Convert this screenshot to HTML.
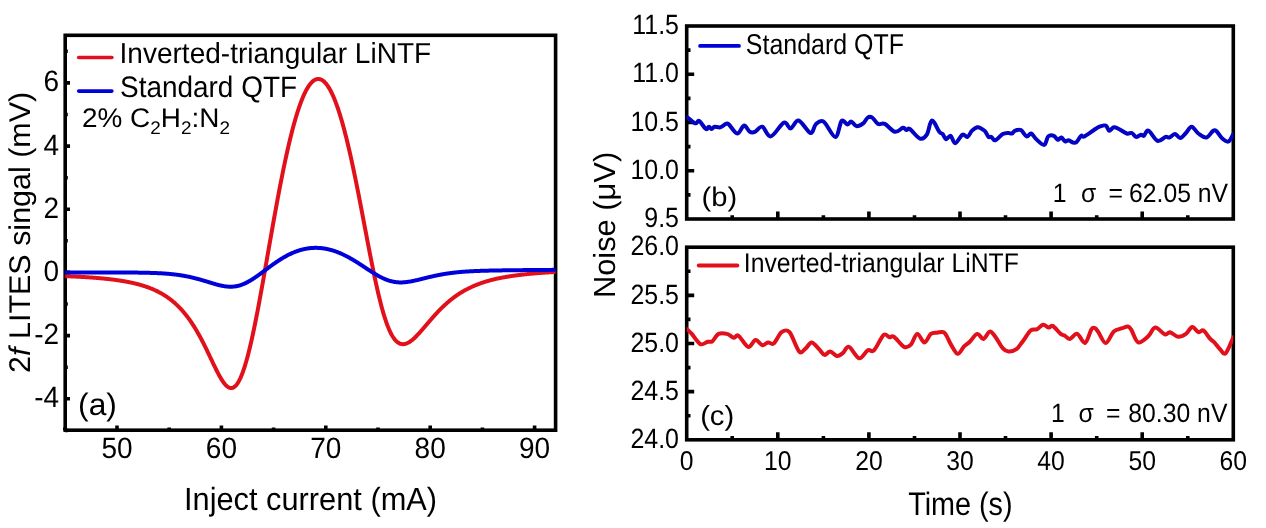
<!DOCTYPE html>
<html><head><meta charset="utf-8"><style>html,body{margin:0;padding:0;background:#fff;overflow:hidden}svg{display:block;will-change:transform}text{font-family:"Liberation Sans",sans-serif;fill:#000;text-rendering:geometricPrecision}</style></head><body>
<svg width="1266" height="528" viewBox="0 0 1266 528">
<rect width="1266" height="528" fill="#fff"/>
<defs><clipPath id="cl"><rect x="65.2" y="35.3" width="490.4" height="394.9"/></clipPath>
<clipPath id="cb"><rect x="686.7" y="26" width="546.6" height="193"/></clipPath>
<clipPath id="cc"><rect x="686.7" y="247.2" width="546.6" height="192.6"/></clipPath></defs>
<rect x="65.2" y="35.3" width="490.4" height="394.9" fill="none" stroke="#000" stroke-width="3.6"/>
<path d="M117.0,430.2V425.4 M221.4,430.2V425.4 M325.8,430.2V425.4 M430.2,430.2V425.4 M534.6,430.2V425.4 M64.8,430.2V427.6 M169.2,430.2V427.6 M273.6,430.2V427.6 M378.0,430.2V427.6 M482.4,430.2V427.6 M65.2,398.8H70.0 M65.2,335.6H70.0 M65.2,272.4H70.0 M65.2,209.3H70.0 M65.2,146.1H70.0 M65.2,82.9H70.0 M65.2,430.4H67.8 M65.2,367.2H67.8 M65.2,304.0H67.8 M65.2,240.8H67.8 M65.2,177.7H67.8 M65.2,114.5H67.8 M65.2,51.3H67.8" stroke="#000" stroke-width="3.6" fill="none"/>
<g clip-path="url(#cl)" fill="none" stroke-linejoin="round" stroke-linecap="round">
<path d="M63.0,276.08 L63.5,276.10 L64.0,276.11 L64.5,276.13 L65.0,276.15 L65.5,276.17 L66.0,276.19 L66.5,276.21 L67.0,276.23 L67.5,276.25 L68.0,276.27 L68.5,276.29 L69.0,276.31 L69.5,276.33 L70.0,276.35 L70.5,276.37 L71.0,276.39 L71.5,276.41 L72.0,276.43 L72.5,276.46 L73.0,276.48 L73.5,276.50 L74.0,276.52 L74.5,276.55 L75.0,276.57 L75.5,276.60 L76.0,276.62 L76.5,276.64 L77.0,276.67 L77.5,276.69 L78.0,276.72 L78.5,276.75 L79.0,276.77 L79.5,276.80 L80.0,276.82 L80.5,276.85 L81.0,276.88 L81.5,276.91 L82.0,276.94 L82.5,276.96 L83.0,276.99 L83.5,277.02 L84.0,277.05 L84.5,277.08 L85.0,277.11 L85.5,277.14 L86.0,277.17 L86.5,277.20 L87.0,277.24 L87.5,277.27 L88.0,277.30 L88.5,277.33 L89.0,277.37 L89.5,277.40 L90.0,277.44 L90.5,277.47 L91.0,277.51 L91.5,277.54 L92.0,277.58 L92.5,277.61 L93.0,277.65 L93.5,277.69 L94.0,277.73 L94.5,277.77 L95.0,277.81 L95.5,277.84 L96.0,277.88 L96.5,277.93 L97.0,277.97 L97.5,278.01 L98.0,278.05 L98.5,278.09 L99.0,278.14 L99.5,278.18 L100.0,278.22 L100.5,278.27 L101.0,278.32 L101.5,278.36 L102.0,278.41 L102.5,278.46 L103.0,278.50 L103.5,278.55 L104.0,278.60 L104.5,278.65 L105.0,278.70 L105.5,278.75 L106.0,278.81 L106.5,278.86 L107.0,278.91 L107.5,278.97 L108.0,279.02 L108.5,279.08 L109.0,279.13 L109.5,279.19 L110.0,279.25 L110.5,279.31 L111.0,279.37 L111.5,279.43 L112.0,279.49 L112.5,279.55 L113.0,279.61 L113.5,279.68 L114.0,279.74 L114.5,279.81 L115.0,279.87 L115.5,279.94 L116.0,280.01 L116.5,280.08 L117.0,280.15 L117.5,280.22 L118.0,280.29 L118.5,280.36 L119.0,280.44 L119.5,280.51 L120.0,280.59 L120.5,280.67 L121.0,280.75 L121.5,280.83 L122.0,280.91 L122.5,280.99 L123.0,281.07 L123.5,281.16 L124.0,281.24 L124.5,281.33 L125.0,281.42 L125.5,281.51 L126.0,281.60 L126.5,281.69 L127.0,281.78 L127.5,281.88 L128.0,281.98 L128.5,282.07 L129.0,282.17 L129.5,282.27 L130.0,282.38 L130.5,282.48 L131.0,282.59 L131.5,282.69 L132.0,282.80 L132.5,282.91 L133.0,283.02 L133.5,283.14 L134.0,283.25 L134.5,283.37 L135.0,283.49 L135.5,283.61 L136.0,283.73 L136.5,283.86 L137.0,283.99 L137.5,284.12 L138.0,284.25 L138.5,284.38 L139.0,284.51 L139.5,284.65 L140.0,284.79 L140.5,284.93 L141.0,285.08 L141.5,285.22 L142.0,285.37 L142.5,285.52 L143.0,285.67 L143.5,285.83 L144.0,285.99 L144.5,286.15 L145.0,286.31 L145.5,286.48 L146.0,286.65 L146.5,286.82 L147.0,286.99 L147.5,287.17 L148.0,287.35 L148.5,287.53 L149.0,287.72 L149.5,287.91 L150.0,288.10 L150.5,288.30 L151.0,288.50 L151.5,288.70 L152.0,288.90 L152.5,289.11 L153.0,289.32 L153.5,289.54 L154.0,289.76 L154.5,289.98 L155.0,290.21 L155.5,290.44 L156.0,290.68 L156.5,290.91 L157.0,291.16 L157.5,291.40 L158.0,291.65 L158.5,291.91 L159.0,292.17 L159.5,292.43 L160.0,292.70 L160.5,292.97 L161.0,293.25 L161.5,293.53 L162.0,293.82 L162.5,294.11 L163.0,294.41 L163.5,294.71 L164.0,295.02 L164.5,295.33 L165.0,295.65 L165.5,295.97 L166.0,296.30 L166.5,296.63 L167.0,296.97 L167.5,297.31 L168.0,297.67 L168.5,298.02 L169.0,298.38 L169.5,298.75 L170.0,299.13 L170.5,299.51 L171.0,299.90 L171.5,300.29 L172.0,300.69 L172.5,301.10 L173.0,301.52 L173.5,301.94 L174.0,302.36 L174.5,302.80 L175.0,303.24 L175.5,303.69 L176.0,304.15 L176.5,304.62 L177.0,305.09 L177.5,305.57 L178.0,306.06 L178.5,306.55 L179.0,307.06 L179.5,307.57 L180.0,308.09 L180.5,308.62 L181.0,309.16 L181.5,309.70 L182.0,310.26 L182.5,310.82 L183.0,311.39 L183.5,311.98 L184.0,312.57 L184.5,313.17 L185.0,313.78 L185.5,314.40 L186.0,315.02 L186.5,315.66 L187.0,316.31 L187.5,316.97 L188.0,317.63 L188.5,318.31 L189.0,319.00 L189.5,319.70 L190.0,320.40 L190.5,321.12 L191.0,321.85 L191.5,322.59 L192.0,323.34 L192.5,324.10 L193.0,324.87 L193.5,325.65 L194.0,326.44 L194.5,327.24 L195.0,328.05 L195.5,328.87 L196.0,329.70 L196.5,330.55 L197.0,331.40 L197.5,332.27 L198.0,333.14 L198.5,334.02 L199.0,334.92 L199.5,335.82 L200.0,336.74 L200.5,337.66 L201.0,338.60 L201.5,339.54 L202.0,340.50 L202.5,341.46 L203.0,342.43 L203.5,343.41 L204.0,344.39 L204.5,345.39 L205.0,346.39 L205.5,347.40 L206.0,348.42 L206.5,349.44 L207.0,350.47 L207.5,351.51 L208.0,352.55 L208.5,353.59 L209.0,354.64 L209.5,355.69 L210.0,356.74 L210.5,357.79 L211.0,358.85 L211.5,359.90 L212.0,360.95 L212.5,362.01 L213.0,363.06 L213.5,364.10 L214.0,365.14 L214.5,366.18 L215.0,367.21 L215.5,368.23 L216.0,369.24 L216.5,370.24 L217.0,371.22 L217.5,372.20 L218.0,373.16 L218.5,374.10 L219.0,375.03 L219.5,375.94 L220.0,376.83 L220.5,377.69 L221.0,378.54 L221.5,379.35 L222.0,380.15 L222.5,380.91 L223.0,381.64 L223.5,382.34 L224.0,383.01 L224.5,383.64 L225.0,384.24 L225.5,384.80 L226.0,385.32 L226.5,385.79 L227.0,386.23 L227.5,386.62 L228.0,386.97 L228.5,387.27 L229.0,387.52 L229.5,387.72 L230.0,387.87 L230.5,387.97 L231.0,388.01 L231.5,388.00 L232.0,387.94 L232.5,387.82 L233.0,387.64 L233.5,387.40 L234.0,387.11 L234.5,386.76 L235.0,386.35 L235.5,385.88 L236.0,385.35 L236.5,384.75 L237.0,384.10 L237.5,383.39 L238.0,382.62 L238.5,381.78 L239.0,380.89 L239.5,379.93 L240.0,378.92 L240.5,377.85 L241.0,376.71 L241.5,375.52 L242.0,374.27 L242.5,372.96 L243.0,371.60 L243.5,370.18 L244.0,368.70 L244.5,367.17 L245.0,365.58 L245.5,363.94 L246.0,362.25 L246.5,360.50 L247.0,358.71 L247.5,356.86 L248.0,354.97 L248.5,353.03 L249.0,351.05 L249.5,349.01 L250.0,346.94 L250.5,344.82 L251.0,342.66 L251.5,340.45 L252.0,338.21 L252.5,335.93 L253.0,333.61 L253.5,331.26 L254.0,328.87 L254.5,326.45 L255.0,324.00 L255.5,321.51 L256.0,319.00 L256.5,316.45 L257.0,313.88 L257.5,311.28 L258.0,308.66 L258.5,306.02 L259.0,303.35 L259.5,300.66 L260.0,297.95 L260.5,295.22 L261.0,292.48 L261.5,289.72 L262.0,286.94 L262.5,284.16 L263.0,281.35 L263.5,278.54 L264.0,275.72 L264.5,272.89 L265.0,270.05 L265.5,267.20 L266.0,264.35 L266.5,261.50 L267.0,258.64 L267.5,255.78 L268.0,252.92 L268.5,250.05 L269.0,247.19 L269.5,244.34 L270.0,241.48 L270.5,238.63 L271.0,235.78 L271.5,232.94 L272.0,230.11 L272.5,227.29 L273.0,224.47 L273.5,221.67 L274.0,218.87 L274.5,216.09 L275.0,213.32 L275.5,210.56 L276.0,207.82 L276.5,205.09 L277.0,202.38 L277.5,199.68 L278.0,197.00 L278.5,194.34 L279.0,191.70 L279.5,189.08 L280.0,186.47 L280.5,183.89 L281.0,181.33 L281.5,178.79 L282.0,176.28 L282.5,173.78 L283.0,171.31 L283.5,168.87 L284.0,166.45 L284.5,164.05 L285.0,161.68 L285.5,159.34 L286.0,157.02 L286.5,154.74 L287.0,152.48 L287.5,150.24 L288.0,148.04 L288.5,145.87 L289.0,143.72 L289.5,141.61 L290.0,139.52 L290.5,137.47 L291.0,135.45 L291.5,133.46 L292.0,131.50 L292.5,129.57 L293.0,127.68 L293.5,125.81 L294.0,123.99 L294.5,122.19 L295.0,120.43 L295.5,118.70 L296.0,117.01 L296.5,115.35 L297.0,113.72 L297.5,112.14 L298.0,110.58 L298.5,109.06 L299.0,107.58 L299.5,106.13 L300.0,104.72 L300.5,103.35 L301.0,102.01 L301.5,100.70 L302.0,99.44 L302.5,98.21 L303.0,97.02 L303.5,95.86 L304.0,94.75 L304.5,93.67 L305.0,92.62 L305.5,91.62 L306.0,90.65 L306.5,89.72 L307.0,88.83 L307.5,87.98 L308.0,87.17 L308.5,86.39 L309.0,85.65 L309.5,84.95 L310.0,84.29 L310.5,83.67 L311.0,83.08 L311.5,82.54 L312.0,82.03 L312.5,81.56 L313.0,81.13 L313.5,80.74 L314.0,80.39 L314.5,80.08 L315.0,79.81 L315.5,79.57 L316.0,79.38 L316.5,79.22 L317.0,79.10 L317.5,79.02 L318.0,78.98 L318.5,78.98 L319.0,79.02 L319.5,79.10 L320.0,79.22 L320.5,79.37 L321.0,79.56 L321.5,79.80 L322.0,80.07 L322.5,80.38 L323.0,80.73 L323.5,81.11 L324.0,81.54 L324.5,82.01 L325.0,82.51 L325.5,83.05 L326.0,83.63 L326.5,84.25 L327.0,84.90 L327.5,85.60 L328.0,86.33 L328.5,87.10 L329.0,87.91 L329.5,88.75 L330.0,89.63 L330.5,90.55 L331.0,91.51 L331.5,92.51 L332.0,93.54 L332.5,94.61 L333.0,95.71 L333.5,96.85 L334.0,98.03 L334.5,99.24 L335.0,100.49 L335.5,101.78 L336.0,103.10 L336.5,104.46 L337.0,105.85 L337.5,107.28 L338.0,108.74 L338.5,110.23 L339.0,111.76 L339.5,113.33 L340.0,114.92 L340.5,116.56 L341.0,118.22 L341.5,119.92 L342.0,121.65 L342.5,123.41 L343.0,125.20 L343.5,127.03 L344.0,128.88 L344.5,130.77 L345.0,132.69 L345.5,134.64 L346.0,136.61 L346.5,138.62 L347.0,140.65 L347.5,142.72 L348.0,144.81 L348.5,146.93 L349.0,149.08 L349.5,151.25 L350.0,153.45 L350.5,155.67 L351.0,157.92 L351.5,160.19 L352.0,162.49 L352.5,164.81 L353.0,167.15 L353.5,169.51 L354.0,171.90 L354.5,174.30 L355.0,176.72 L355.5,179.17 L356.0,181.63 L356.5,184.11 L357.0,186.60 L357.5,189.11 L358.0,191.64 L358.5,194.18 L359.0,196.73 L359.5,199.30 L360.0,201.87 L360.5,204.46 L361.0,207.06 L361.5,209.66 L362.0,212.27 L362.5,214.89 L363.0,217.51 L363.5,220.14 L364.0,222.77 L364.5,225.40 L365.0,228.03 L365.5,230.66 L366.0,233.29 L366.5,235.92 L367.0,238.54 L367.5,241.15 L368.0,243.76 L368.5,246.36 L369.0,248.95 L369.5,251.53 L370.0,254.09 L370.5,256.64 L371.0,259.18 L371.5,261.70 L372.0,264.20 L372.5,266.68 L373.0,269.14 L373.5,271.58 L374.0,274.00 L374.5,276.39 L375.0,278.75 L375.5,281.08 L376.0,283.39 L376.5,285.66 L377.0,287.90 L377.5,290.11 L378.0,292.28 L378.5,294.42 L379.0,296.52 L379.5,298.58 L380.0,300.60 L380.5,302.59 L381.0,304.52 L381.5,306.42 L382.0,308.28 L382.5,310.08 L383.0,311.85 L383.5,313.57 L384.0,315.24 L384.5,316.86 L385.0,318.44 L385.5,319.97 L386.0,321.45 L386.5,322.88 L387.0,324.26 L387.5,325.59 L388.0,326.87 L388.5,328.11 L389.0,329.29 L389.5,330.42 L390.0,331.51 L390.5,332.55 L391.0,333.53 L391.5,334.47 L392.0,335.36 L392.5,336.21 L393.0,337.00 L393.5,337.75 L394.0,338.46 L394.5,339.12 L395.0,339.73 L395.5,340.30 L396.0,340.83 L396.5,341.32 L397.0,341.76 L397.5,342.16 L398.0,342.53 L398.5,342.85 L399.0,343.14 L399.5,343.39 L400.0,343.60 L400.5,343.78 L401.0,343.92 L401.5,344.03 L402.0,344.11 L402.5,344.15 L403.0,344.16 L403.5,344.15 L404.0,344.10 L404.5,344.03 L405.0,343.93 L405.5,343.80 L406.0,343.65 L406.5,343.47 L407.0,343.27 L407.5,343.04 L408.0,342.80 L408.5,342.53 L409.0,342.24 L409.5,341.93 L410.0,341.61 L410.5,341.26 L411.0,340.90 L411.5,340.52 L412.0,340.13 L412.5,339.72 L413.0,339.29 L413.5,338.86 L414.0,338.41 L414.5,337.94 L415.0,337.47 L415.5,336.98 L416.0,336.49 L416.5,335.98 L417.0,335.47 L417.5,334.95 L418.0,334.42 L418.5,333.88 L419.0,333.34 L419.5,332.79 L420.0,332.23 L420.5,331.67 L421.0,331.11 L421.5,330.54 L422.0,329.96 L422.5,329.39 L423.0,328.81 L423.5,328.23 L424.0,327.64 L424.5,327.06 L425.0,326.47 L425.5,325.88 L426.0,325.30 L426.5,324.71 L427.0,324.12 L427.5,323.53 L428.0,322.95 L428.5,322.36 L429.0,321.78 L429.5,321.19 L430.0,320.61 L430.5,320.03 L431.0,319.46 L431.5,318.88 L432.0,318.31 L432.5,317.74 L433.0,317.18 L433.5,316.61 L434.0,316.05 L434.5,315.50 L435.0,314.95 L435.5,314.40 L436.0,313.85 L436.5,313.31 L437.0,312.78 L437.5,312.24 L438.0,311.72 L438.5,311.19 L439.0,310.67 L439.5,310.16 L440.0,309.65 L440.5,309.14 L441.0,308.64 L441.5,308.15 L442.0,307.66 L442.5,307.17 L443.0,306.69 L443.5,306.21 L444.0,305.74 L444.5,305.27 L445.0,304.81 L445.5,304.35 L446.0,303.90 L446.5,303.46 L447.0,303.01 L447.5,302.58 L448.0,302.15 L448.5,301.72 L449.0,301.30 L449.5,300.88 L450.0,300.47 L450.5,300.06 L451.0,299.66 L451.5,299.26 L452.0,298.87 L452.5,298.48 L453.0,298.10 L453.5,297.72 L454.0,297.35 L454.5,296.98 L455.0,296.61 L455.5,296.26 L456.0,295.90 L456.5,295.55 L457.0,295.21 L457.5,294.86 L458.0,294.53 L458.5,294.20 L459.0,293.87 L459.5,293.54 L460.0,293.23 L460.5,292.91 L461.0,292.60 L461.5,292.29 L462.0,291.99 L462.5,291.69 L463.0,291.40 L463.5,291.11 L464.0,290.83 L464.5,290.54 L465.0,290.27 L465.5,289.99 L466.0,289.72 L466.5,289.45 L467.0,289.19 L467.5,288.93 L468.0,288.68 L468.5,288.42 L469.0,288.18 L469.5,287.93 L470.0,287.69 L470.5,287.45 L471.0,287.22 L471.5,286.98 L472.0,286.76 L472.5,286.53 L473.0,286.31 L473.5,286.09 L474.0,285.88 L474.5,285.66 L475.0,285.45 L475.5,285.25 L476.0,285.04 L476.5,284.84 L477.0,284.65 L477.5,284.45 L478.0,284.26 L478.5,284.07 L479.0,283.88 L479.5,283.70 L480.0,283.52 L480.5,283.34 L481.0,283.17 L481.5,282.99 L482.0,282.82 L482.5,282.65 L483.0,282.49 L483.5,282.32 L484.0,282.16 L484.5,282.00 L485.0,281.85 L485.5,281.69 L486.0,281.54 L486.5,281.39 L487.0,281.24 L487.5,281.09 L488.0,280.95 L488.5,280.81 L489.0,280.67 L489.5,280.53 L490.0,280.40 L490.5,280.26 L491.0,280.13 L491.5,280.00 L492.0,279.87 L492.5,279.74 L493.0,279.62 L493.5,279.50 L494.0,279.38 L494.5,279.26 L495.0,279.14 L495.5,279.02 L496.0,278.91 L496.5,278.80 L497.0,278.68 L497.5,278.57 L498.0,278.47 L498.5,278.36 L499.0,278.25 L499.5,278.15 L500.0,278.05 L500.5,277.95 L501.0,277.85 L501.5,277.75 L502.0,277.65 L502.5,277.56 L503.0,277.46 L503.5,277.37 L504.0,277.28 L504.5,277.19 L505.0,277.10 L505.5,277.01 L506.0,276.92 L506.5,276.84 L507.0,276.75 L507.5,276.67 L508.0,276.59 L508.5,276.50 L509.0,276.42 L509.5,276.35 L510.0,276.27 L510.5,276.19 L511.0,276.11 L511.5,276.04 L512.0,275.96 L512.5,275.89 L513.0,275.82 L513.5,275.75 L514.0,275.68 L514.5,275.61 L515.0,275.54 L515.5,275.47 L516.0,275.40 L516.5,275.34 L517.0,275.27 L517.5,275.21 L518.0,275.14 L518.5,275.08 L519.0,275.02 L519.5,274.96 L520.0,274.90 L520.5,274.84 L521.0,274.78 L521.5,274.72 L522.0,274.66 L522.5,274.60 L523.0,274.55 L523.5,274.49 L524.0,274.44 L524.5,274.38 L525.0,274.33 L525.5,274.28 L526.0,274.22 L526.5,274.17 L527.0,274.12 L527.5,274.07 L528.0,274.02 L528.5,273.97 L529.0,273.92 L529.5,273.87 L530.0,273.83 L530.5,273.78 L531.0,273.73 L531.5,273.68 L532.0,273.64 L532.5,273.59 L533.0,273.55 L533.5,273.51 L534.0,273.46 L534.5,273.42 L535.0,273.38 L535.5,273.33 L536.0,273.29 L536.5,273.25 L537.0,273.21 L537.5,273.17 L538.0,273.13 L538.5,273.09 L539.0,273.05 L539.5,273.01 L540.0,272.97 L540.5,272.93 L541.0,272.90 L541.5,272.86 L542.0,272.82 L542.5,272.79 L543.0,272.75 L543.5,272.71 L544.0,272.68 L544.5,272.64 L545.0,272.61 L545.5,272.58 L546.0,272.54 L546.5,272.51 L547.0,272.47 L547.5,272.44 L548.0,272.41 L548.5,272.38 L549.0,272.34 L549.5,272.31 L550.0,272.28 L550.5,272.25 L551.0,272.22 L551.5,272.19 L552.0,272.16 L552.5,272.13 L553.0,272.10 L553.5,272.07 L554.0,272.04 L554.5,272.01 L555.0,271.98 L555.5,271.96 L556.0,271.93 L556.5,271.90 L557.0,271.87 L557.5,271.85 L558.0,271.82" stroke="#E1101A" stroke-width="4"/>
<path d="M63.0,272.55 L63.5,272.55 L64.0,272.54 L64.5,272.54 L65.0,272.54 L65.5,272.54 L66.0,272.54 L66.5,272.54 L67.0,272.53 L67.5,272.53 L68.0,272.53 L68.5,272.53 L69.0,272.53 L69.5,272.53 L70.0,272.53 L70.5,272.52 L71.0,272.52 L71.5,272.52 L72.0,272.52 L72.5,272.52 L73.0,272.52 L73.5,272.52 L74.0,272.51 L74.5,272.51 L75.0,272.51 L75.5,272.51 L76.0,272.51 L76.5,272.51 L77.0,272.51 L77.5,272.51 L78.0,272.50 L78.5,272.50 L79.0,272.50 L79.5,272.50 L80.0,272.50 L80.5,272.50 L81.0,272.50 L81.5,272.50 L82.0,272.49 L82.5,272.49 L83.0,272.49 L83.5,272.49 L84.0,272.49 L84.5,272.49 L85.0,272.49 L85.5,272.49 L86.0,272.49 L86.5,272.49 L87.0,272.48 L87.5,272.48 L88.0,272.48 L88.5,272.48 L89.0,272.48 L89.5,272.48 L90.0,272.48 L90.5,272.48 L91.0,272.48 L91.5,272.48 L92.0,272.48 L92.5,272.48 L93.0,272.47 L93.5,272.47 L94.0,272.47 L94.5,272.47 L95.0,272.47 L95.5,272.47 L96.0,272.47 L96.5,272.47 L97.0,272.47 L97.5,272.47 L98.0,272.47 L98.5,272.47 L99.0,272.47 L99.5,272.47 L100.0,272.47 L100.5,272.47 L101.0,272.47 L101.5,272.47 L102.0,272.47 L102.5,272.47 L103.0,272.47 L103.5,272.47 L104.0,272.47 L104.5,272.47 L105.0,272.47 L105.5,272.47 L106.0,272.47 L106.5,272.47 L107.0,272.47 L107.5,272.47 L108.0,272.47 L108.5,272.47 L109.0,272.47 L109.5,272.47 L110.0,272.47 L110.5,272.47 L111.0,272.47 L111.5,272.47 L112.0,272.47 L112.5,272.47 L113.0,272.47 L113.5,272.48 L114.0,272.48 L114.5,272.48 L115.0,272.48 L115.5,272.48 L116.0,272.48 L116.5,272.48 L117.0,272.48 L117.5,272.48 L118.0,272.49 L118.5,272.49 L119.0,272.49 L119.5,272.49 L120.0,272.49 L120.5,272.49 L121.0,272.50 L121.5,272.50 L122.0,272.50 L122.5,272.50 L123.0,272.50 L123.5,272.51 L124.0,272.51 L124.5,272.51 L125.0,272.51 L125.5,272.52 L126.0,272.52 L126.5,272.52 L127.0,272.52 L127.5,272.53 L128.0,272.53 L128.5,272.53 L129.0,272.54 L129.5,272.54 L130.0,272.54 L130.5,272.55 L131.0,272.55 L131.5,272.56 L132.0,272.56 L132.5,272.56 L133.0,272.57 L133.5,272.57 L134.0,272.58 L134.5,272.58 L135.0,272.59 L135.5,272.59 L136.0,272.60 L136.5,272.61 L137.0,272.61 L137.5,272.62 L138.0,272.62 L138.5,272.63 L139.0,272.64 L139.5,272.64 L140.0,272.65 L140.5,272.66 L141.0,272.67 L141.5,272.67 L142.0,272.68 L142.5,272.69 L143.0,272.70 L143.5,272.71 L144.0,272.72 L144.5,272.73 L145.0,272.74 L145.5,272.75 L146.0,272.76 L146.5,272.77 L147.0,272.78 L147.5,272.79 L148.0,272.81 L148.5,272.82 L149.0,272.83 L149.5,272.85 L150.0,272.86 L150.5,272.88 L151.0,272.89 L151.5,272.91 L152.0,272.92 L152.5,272.94 L153.0,272.95 L153.5,272.97 L154.0,272.99 L154.5,273.01 L155.0,273.03 L155.5,273.05 L156.0,273.07 L156.5,273.09 L157.0,273.11 L157.5,273.13 L158.0,273.16 L158.5,273.18 L159.0,273.21 L159.5,273.23 L160.0,273.26 L160.5,273.28 L161.0,273.31 L161.5,273.34 L162.0,273.37 L162.5,273.40 L163.0,273.43 L163.5,273.46 L164.0,273.50 L164.5,273.53 L165.0,273.56 L165.5,273.60 L166.0,273.64 L166.5,273.68 L167.0,273.71 L167.5,273.75 L168.0,273.80 L168.5,273.84 L169.0,273.88 L169.5,273.93 L170.0,273.97 L170.5,274.02 L171.0,274.07 L171.5,274.12 L172.0,274.17 L172.5,274.22 L173.0,274.27 L173.5,274.33 L174.0,274.39 L174.5,274.44 L175.0,274.50 L175.5,274.56 L176.0,274.62 L176.5,274.69 L177.0,274.75 L177.5,274.82 L178.0,274.89 L178.5,274.96 L179.0,275.03 L179.5,275.10 L180.0,275.18 L180.5,275.25 L181.0,275.33 L181.5,275.41 L182.0,275.49 L182.5,275.57 L183.0,275.66 L183.5,275.74 L184.0,275.83 L184.5,275.92 L185.0,276.01 L185.5,276.10 L186.0,276.20 L186.5,276.29 L187.0,276.39 L187.5,276.49 L188.0,276.59 L188.5,276.70 L189.0,276.80 L189.5,276.91 L190.0,277.02 L190.5,277.13 L191.0,277.24 L191.5,277.36 L192.0,277.47 L192.5,277.59 L193.0,277.71 L193.5,277.83 L194.0,277.95 L194.5,278.08 L195.0,278.20 L195.5,278.33 L196.0,278.46 L196.5,278.59 L197.0,278.72 L197.5,278.86 L198.0,278.99 L198.5,279.13 L199.0,279.26 L199.5,279.40 L200.0,279.54 L200.5,279.69 L201.0,279.83 L201.5,279.97 L202.0,280.12 L202.5,280.27 L203.0,280.41 L203.5,280.56 L204.0,280.71 L204.5,280.86 L205.0,281.01 L205.5,281.16 L206.0,281.31 L206.5,281.47 L207.0,281.62 L207.5,281.77 L208.0,281.93 L208.5,282.08 L209.0,282.23 L209.5,282.39 L210.0,282.54 L210.5,282.69 L211.0,282.84 L211.5,282.99 L212.0,283.15 L212.5,283.30 L213.0,283.44 L213.5,283.59 L214.0,283.74 L214.5,283.88 L215.0,284.03 L215.5,284.17 L216.0,284.31 L216.5,284.45 L217.0,284.58 L217.5,284.72 L218.0,284.85 L218.5,284.98 L219.0,285.10 L219.5,285.22 L220.0,285.34 L220.5,285.46 L221.0,285.57 L221.5,285.68 L222.0,285.78 L222.5,285.88 L223.0,285.97 L223.5,286.07 L224.0,286.15 L224.5,286.23 L225.0,286.31 L225.5,286.37 L226.0,286.44 L226.5,286.50 L227.0,286.55 L227.5,286.59 L228.0,286.63 L228.5,286.66 L229.0,286.69 L229.5,286.71 L230.0,286.72 L230.5,286.72 L231.0,286.72 L231.5,286.71 L232.0,286.69 L232.5,286.67 L233.0,286.63 L233.5,286.59 L234.0,286.54 L234.5,286.48 L235.0,286.42 L235.5,286.34 L236.0,286.26 L236.5,286.17 L237.0,286.07 L237.5,285.96 L238.0,285.85 L238.5,285.72 L239.0,285.59 L239.5,285.45 L240.0,285.30 L240.5,285.14 L241.0,284.98 L241.5,284.80 L242.0,284.62 L242.5,284.43 L243.0,284.24 L243.5,284.03 L244.0,283.82 L244.5,283.60 L245.0,283.37 L245.5,283.14 L246.0,282.90 L246.5,282.65 L247.0,282.40 L247.5,282.13 L248.0,281.87 L248.5,281.59 L249.0,281.31 L249.5,281.03 L250.0,280.74 L250.5,280.44 L251.0,280.14 L251.5,279.83 L252.0,279.52 L252.5,279.20 L253.0,278.88 L253.5,278.56 L254.0,278.23 L254.5,277.90 L255.0,277.56 L255.5,277.22 L256.0,276.87 L256.5,276.53 L257.0,276.18 L257.5,275.82 L258.0,275.47 L258.5,275.11 L259.0,274.75 L259.5,274.39 L260.0,274.02 L260.5,273.66 L261.0,273.29 L261.5,272.92 L262.0,272.55 L262.5,272.18 L263.0,271.81 L263.5,271.44 L264.0,271.06 L264.5,270.69 L265.0,270.32 L265.5,269.94 L266.0,269.57 L266.5,269.20 L267.0,268.83 L267.5,268.45 L268.0,268.08 L268.5,267.71 L269.0,267.34 L269.5,266.97 L270.0,266.61 L270.5,266.24 L271.0,265.88 L271.5,265.51 L272.0,265.15 L272.5,264.79 L273.0,264.44 L273.5,264.08 L274.0,263.73 L274.5,263.38 L275.0,263.03 L275.5,262.68 L276.0,262.34 L276.5,262.00 L277.0,261.66 L277.5,261.33 L278.0,261.00 L278.5,260.67 L279.0,260.34 L279.5,260.02 L280.0,259.70 L280.5,259.38 L281.0,259.07 L281.5,258.76 L282.0,258.45 L282.5,258.15 L283.0,257.85 L283.5,257.56 L284.0,257.27 L284.5,256.98 L285.0,256.70 L285.5,256.42 L286.0,256.14 L286.5,255.87 L287.0,255.60 L287.5,255.34 L288.0,255.08 L288.5,254.82 L289.0,254.57 L289.5,254.33 L290.0,254.08 L290.5,253.85 L291.0,253.61 L291.5,253.38 L292.0,253.16 L292.5,252.94 L293.0,252.72 L293.5,252.51 L294.0,252.31 L294.5,252.10 L295.0,251.91 L295.5,251.71 L296.0,251.53 L296.5,251.34 L297.0,251.16 L297.5,250.99 L298.0,250.82 L298.5,250.65 L299.0,250.49 L299.5,250.34 L300.0,250.19 L300.5,250.04 L301.0,249.90 L301.5,249.76 L302.0,249.63 L302.5,249.50 L303.0,249.38 L303.5,249.26 L304.0,249.15 L304.5,249.04 L305.0,248.94 L305.5,248.84 L306.0,248.74 L306.5,248.65 L307.0,248.57 L307.5,248.49 L308.0,248.41 L308.5,248.34 L309.0,248.28 L309.5,248.22 L310.0,248.16 L310.5,248.11 L311.0,248.06 L311.5,248.02 L312.0,247.98 L312.5,247.95 L313.0,247.92 L313.5,247.90 L314.0,247.88 L314.5,247.86 L315.0,247.86 L315.5,247.85 L316.0,247.85 L316.5,247.85 L317.0,247.86 L317.5,247.88 L318.0,247.90 L318.5,247.92 L319.0,247.95 L319.5,247.98 L320.0,248.02 L320.5,248.06 L321.0,248.10 L321.5,248.16 L322.0,248.21 L322.5,248.27 L323.0,248.33 L323.5,248.40 L324.0,248.48 L324.5,248.55 L325.0,248.64 L325.5,248.72 L326.0,248.82 L326.5,248.91 L327.0,249.01 L327.5,249.12 L328.0,249.23 L328.5,249.34 L329.0,249.46 L329.5,249.58 L330.0,249.71 L330.5,249.84 L331.0,249.97 L331.5,250.11 L332.0,250.26 L332.5,250.41 L333.0,250.56 L333.5,250.72 L334.0,250.88 L334.5,251.04 L335.0,251.21 L335.5,251.39 L336.0,251.56 L336.5,251.75 L337.0,251.93 L337.5,252.12 L338.0,252.32 L338.5,252.51 L339.0,252.72 L339.5,252.92 L340.0,253.13 L340.5,253.35 L341.0,253.57 L341.5,253.79 L342.0,254.01 L342.5,254.24 L343.0,254.47 L343.5,254.71 L344.0,254.95 L344.5,255.19 L345.0,255.44 L345.5,255.69 L346.0,255.95 L346.5,256.20 L347.0,256.47 L347.5,256.73 L348.0,257.00 L348.5,257.27 L349.0,257.54 L349.5,257.82 L350.0,258.10 L350.5,258.38 L351.0,258.67 L351.5,258.95 L352.0,259.24 L352.5,259.54 L353.0,259.83 L353.5,260.13 L354.0,260.43 L354.5,260.74 L355.0,261.04 L355.5,261.35 L356.0,261.66 L356.5,261.97 L357.0,262.29 L357.5,262.60 L358.0,262.92 L358.5,263.24 L359.0,263.56 L359.5,263.88 L360.0,264.20 L360.5,264.53 L361.0,264.85 L361.5,265.18 L362.0,265.51 L362.5,265.83 L363.0,266.16 L363.5,266.49 L364.0,266.82 L364.5,267.15 L365.0,267.48 L365.5,267.81 L366.0,268.14 L366.5,268.47 L367.0,268.80 L367.5,269.13 L368.0,269.46 L368.5,269.78 L369.0,270.11 L369.5,270.44 L370.0,270.76 L370.5,271.08 L371.0,271.40 L371.5,271.72 L372.0,272.04 L372.5,272.36 L373.0,272.67 L373.5,272.98 L374.0,273.29 L374.5,273.60 L375.0,273.90 L375.5,274.20 L376.0,274.50 L376.5,274.79 L377.0,275.08 L377.5,275.37 L378.0,275.65 L378.5,275.93 L379.0,276.20 L379.5,276.47 L380.0,276.74 L380.5,277.00 L381.0,277.26 L381.5,277.51 L382.0,277.76 L382.5,278.00 L383.0,278.23 L383.5,278.46 L384.0,278.69 L384.5,278.91 L385.0,279.12 L385.5,279.33 L386.0,279.53 L386.5,279.72 L387.0,279.91 L387.5,280.09 L388.0,280.27 L388.5,280.44 L389.0,280.60 L389.5,280.76 L390.0,280.90 L390.5,281.05 L391.0,281.18 L391.5,281.31 L392.0,281.43 L392.5,281.54 L393.0,281.65 L393.5,281.75 L394.0,281.84 L394.5,281.93 L395.0,282.00 L395.5,282.07 L396.0,282.14 L396.5,282.20 L397.0,282.25 L397.5,282.29 L398.0,282.33 L398.5,282.36 L399.0,282.38 L399.5,282.40 L400.0,282.41 L400.5,282.42 L401.0,282.42 L401.5,282.41 L402.0,282.40 L402.5,282.38 L403.0,282.35 L403.5,282.33 L404.0,282.29 L404.5,282.25 L405.0,282.21 L405.5,282.16 L406.0,282.10 L406.5,282.05 L407.0,281.98 L407.5,281.92 L408.0,281.85 L408.5,281.77 L409.0,281.69 L409.5,281.61 L410.0,281.53 L410.5,281.44 L411.0,281.35 L411.5,281.25 L412.0,281.16 L412.5,281.06 L413.0,280.96 L413.5,280.85 L414.0,280.75 L414.5,280.64 L415.0,280.53 L415.5,280.42 L416.0,280.31 L416.5,280.19 L417.0,280.08 L417.5,279.96 L418.0,279.84 L418.5,279.72 L419.0,279.60 L419.5,279.48 L420.0,279.36 L420.5,279.24 L421.0,279.11 L421.5,278.99 L422.0,278.87 L422.5,278.74 L423.0,278.62 L423.5,278.50 L424.0,278.37 L424.5,278.25 L425.0,278.13 L425.5,278.00 L426.0,277.88 L426.5,277.76 L427.0,277.64 L427.5,277.52 L428.0,277.39 L428.5,277.27 L429.0,277.16 L429.5,277.04 L430.0,276.92 L430.5,276.80 L431.0,276.69 L431.5,276.57 L432.0,276.46 L432.5,276.34 L433.0,276.23 L433.5,276.12 L434.0,276.01 L434.5,275.90 L435.0,275.79 L435.5,275.68 L436.0,275.58 L436.5,275.47 L437.0,275.37 L437.5,275.27 L438.0,275.17 L438.5,275.07 L439.0,274.97 L439.5,274.87 L440.0,274.78 L440.5,274.68 L441.0,274.59 L441.5,274.50 L442.0,274.41 L442.5,274.32 L443.0,274.23 L443.5,274.15 L444.0,274.06 L444.5,273.98 L445.0,273.90 L445.5,273.82 L446.0,273.74 L446.5,273.66 L447.0,273.58 L447.5,273.51 L448.0,273.43 L448.5,273.36 L449.0,273.29 L449.5,273.22 L450.0,273.15 L450.5,273.08 L451.0,273.02 L451.5,272.95 L452.0,272.89 L452.5,272.83 L453.0,272.77 L453.5,272.71 L454.0,272.65 L454.5,272.59 L455.0,272.53 L455.5,272.48 L456.0,272.42 L456.5,272.37 L457.0,272.32 L457.5,272.27 L458.0,272.22 L458.5,272.17 L459.0,272.12 L459.5,272.08 L460.0,272.03 L460.5,271.99 L461.0,271.95 L461.5,271.90 L462.0,271.86 L462.5,271.82 L463.0,271.78 L463.5,271.74 L464.0,271.71 L464.5,271.67 L465.0,271.63 L465.5,271.60 L466.0,271.56 L466.5,271.53 L467.0,271.50 L467.5,271.47 L468.0,271.44 L468.5,271.41 L469.0,271.38 L469.5,271.35 L470.0,271.32 L470.5,271.29 L471.0,271.26 L471.5,271.24 L472.0,271.21 L472.5,271.19 L473.0,271.16 L473.5,271.14 L474.0,271.12 L474.5,271.09 L475.0,271.07 L475.5,271.05 L476.0,271.03 L476.5,271.01 L477.0,270.99 L477.5,270.97 L478.0,270.95 L478.5,270.93 L479.0,270.91 L479.5,270.89 L480.0,270.88 L480.5,270.86 L481.0,270.84 L481.5,270.83 L482.0,270.81 L482.5,270.79 L483.0,270.78 L483.5,270.76 L484.0,270.75 L484.5,270.74 L485.0,270.72 L485.5,270.71 L486.0,270.69 L486.5,270.68 L487.0,270.67 L487.5,270.66 L488.0,270.64 L488.5,270.63 L489.0,270.62 L489.5,270.61 L490.0,270.60 L490.5,270.59 L491.0,270.57 L491.5,270.56 L492.0,270.55 L492.5,270.54 L493.0,270.53 L493.5,270.52 L494.0,270.51 L494.5,270.50 L495.0,270.49 L495.5,270.48 L496.0,270.48 L496.5,270.47 L497.0,270.46 L497.5,270.45 L498.0,270.44 L498.5,270.43 L499.0,270.42 L499.5,270.42 L500.0,270.41 L500.5,270.40 L501.0,270.39 L501.5,270.38 L502.0,270.38 L502.5,270.37 L503.0,270.36 L503.5,270.35 L504.0,270.35 L504.5,270.34 L505.0,270.33 L505.5,270.33 L506.0,270.32 L506.5,270.31 L507.0,270.31 L507.5,270.30 L508.0,270.29 L508.5,270.29 L509.0,270.28 L509.5,270.27 L510.0,270.27 L510.5,270.26 L511.0,270.25 L511.5,270.25 L512.0,270.24 L512.5,270.24 L513.0,270.23 L513.5,270.23 L514.0,270.22 L514.5,270.21 L515.0,270.21 L515.5,270.20 L516.0,270.20 L516.5,270.19 L517.0,270.19 L517.5,270.18 L518.0,270.17 L518.5,270.17 L519.0,270.16 L519.5,270.16 L520.0,270.15 L520.5,270.15 L521.0,270.14 L521.5,270.14 L522.0,270.13 L522.5,270.13 L523.0,270.12 L523.5,270.12 L524.0,270.11 L524.5,270.11 L525.0,270.10 L525.5,270.10 L526.0,270.09 L526.5,270.09 L527.0,270.08 L527.5,270.08 L528.0,270.07 L528.5,270.07 L529.0,270.07 L529.5,270.06 L530.0,270.06 L530.5,270.05 L531.0,270.05 L531.5,270.04 L532.0,270.04 L532.5,270.03 L533.0,270.03 L533.5,270.02 L534.0,270.02 L534.5,270.02 L535.0,270.01 L535.5,270.01 L536.0,270.00 L536.5,270.00 L537.0,269.99 L537.5,269.99 L538.0,269.99 L538.5,269.98 L539.0,269.98 L539.5,269.97 L540.0,269.97 L540.5,269.96 L541.0,269.96 L541.5,269.96 L542.0,269.95 L542.5,269.95 L543.0,269.94 L543.5,269.94 L544.0,269.94 L544.5,269.93 L545.0,269.93 L545.5,269.92 L546.0,269.92 L546.5,269.92 L547.0,269.91 L547.5,269.91 L548.0,269.90 L548.5,269.90 L549.0,269.90 L549.5,269.89 L550.0,269.89 L550.5,269.88 L551.0,269.88 L551.5,269.88 L552.0,269.87 L552.5,269.87 L553.0,269.87 L553.5,269.86 L554.0,269.86 L554.5,269.85 L555.0,269.85 L555.5,269.85 L556.0,269.84 L556.5,269.84 L557.0,269.84 L557.5,269.83 L558.0,269.83" stroke="#0000DA" stroke-width="4"/>
</g>
<text transform="translate(117.00,458.20) scale(1.0000,1.0500)" font-size="28" text-anchor="middle">50</text>
<text transform="translate(221.40,458.20) scale(1.0000,1.0500)" font-size="28" text-anchor="middle">60</text>
<text transform="translate(325.80,458.20) scale(1.0000,1.0500)" font-size="28" text-anchor="middle">70</text>
<text transform="translate(430.20,458.20) scale(1.0000,1.0500)" font-size="28" text-anchor="middle">80</text>
<text transform="translate(534.60,458.20) scale(1.0000,1.0500)" font-size="28" text-anchor="middle">90</text>
<text transform="translate(59.10,407.30) scale(1.0000,1.0500)" font-size="28" text-anchor="end">-4</text>
<text transform="translate(59.10,344.12) scale(1.0000,1.0500)" font-size="28" text-anchor="end">-2</text>
<text transform="translate(59.10,280.94) scale(1.0000,1.0500)" font-size="28" text-anchor="end">0</text>
<text transform="translate(59.10,217.76) scale(1.0000,1.0500)" font-size="28" text-anchor="end">2</text>
<text transform="translate(59.10,154.58) scale(1.0000,1.0500)" font-size="28" text-anchor="end">4</text>
<text transform="translate(59.10,91.40) scale(1.0000,1.0500)" font-size="28" text-anchor="end">6</text>
<path d="M78.7,57.5H111.9" stroke="#E1101A" stroke-width="3.6" stroke-linecap="round"/>
<path d="M78.7,91.1H111.9" stroke="#0000DA" stroke-width="3.6" stroke-linecap="round"/>
<text transform="translate(119.50,62.89) scale(1.0014,1.0324)" font-size="28">Inverted-triangular LiNTF</text>
<text transform="translate(119.99,96.79) scale(0.9979,1.0575)" font-size="28">Standard QTF</text>
<text transform="translate(82.00,126.60) scale(0.9972,0.9628)" font-size="28">2% C<tspan font-size="19" dy="7.4">2</tspan><tspan dy="-7.4">H</tspan><tspan font-size="19" dy="7.4">2</tspan><tspan dy="-7.4">:N</tspan><tspan font-size="19" dy="7.4">2</tspan></text>
<text transform="translate(78.08,414.57) scale(1.0606,1.0304)" font-size="30">(a)</text>
<text transform="translate(183.97,510.43) scale(1.0090,1.0519)" font-size="30.5">Inject current (mA)</text>
<text transform="translate(29.84,372.90) rotate(-90) scale(0.9990,0.9814)" font-size="30.5">2<tspan font-style="italic">f</tspan> LITES singal (mV)</text>
<rect x="686.7" y="26.0" width="546.6" height="193.0" fill="none" stroke="#000" stroke-width="3.6"/>
<path d="M777.8,219.0V211.5 M868.9,219.0V211.5 M960.0,219.0V211.5 M1051.1,219.0V211.5 M1142.2,219.0V211.5 M732.2,219.0V215.2 M823.4,219.0V215.2 M914.5,219.0V215.2 M1005.5,219.0V215.2 M1096.7,219.0V215.2 M1187.8,219.0V215.2 M686.7,170.8H694.2 M686.7,122.5H694.2 M686.7,74.2H694.2 M686.7,194.9H690.5 M686.7,146.6H690.5 M686.7,98.4H690.5 M686.7,50.1H690.5" stroke="#000" stroke-width="3.6" fill="none"/>
<rect x="686.7" y="247.2" width="546.6" height="192.6" fill="none" stroke="#000" stroke-width="3.6"/>
<path d="M777.8,439.8V432.3 M868.9,439.8V432.3 M960.0,439.8V432.3 M1051.1,439.8V432.3 M1142.2,439.8V432.3 M732.2,439.8V436.0 M823.4,439.8V436.0 M914.5,439.8V436.0 M1005.5,439.8V436.0 M1096.7,439.8V436.0 M1187.8,439.8V436.0 M686.7,391.6H694.2 M686.7,343.5H694.2 M686.7,295.4H694.2 M686.7,415.7H690.5 M686.7,367.6H690.5 M686.7,319.4H690.5 M686.7,271.3H690.5" stroke="#000" stroke-width="3.6" fill="none"/>
<g fill="none" stroke-linejoin="round" stroke-linecap="round">
<path clip-path="url(#cb)" d="M686.7,118.0 C686.9,117.9 686.4,116.7 687.8,117.6 C689.2,118.5 693.3,122.7 695.2,123.3 C697.1,123.9 697.4,120.0 699.2,121.0 C701.0,122.0 704.4,128.1 706.0,129.0 C707.6,129.9 707.9,126.7 708.9,126.7 C709.9,126.7 710.8,129.0 711.7,129.0 C712.6,129.0 713.1,127.0 714.5,126.7 C715.9,126.4 718.3,127.8 720.2,127.3 C722.1,126.8 724.5,124.4 725.9,123.9 C727.3,123.4 726.9,122.8 728.8,124.4 C730.7,126.0 734.8,133.3 737.3,133.5 C739.8,133.7 742.0,125.9 744.1,125.6 C746.2,125.3 748.0,130.8 749.8,131.8 C751.6,132.8 752.8,132.7 754.9,131.8 C757.0,131.0 759.6,125.9 762.3,126.7 C764.9,127.5 767.2,137.1 770.8,136.4 C774.4,135.7 780.6,124.0 783.9,122.7 C787.2,121.4 788.2,128.8 790.7,128.4 C793.2,128.0 795.3,119.7 798.6,120.5 C801.9,121.3 807.8,132.3 810.6,133.0 C813.5,133.7 813.5,126.3 815.7,124.4 C817.9,122.5 820.3,119.5 823.6,121.6 C826.9,123.7 832.3,137.0 835.3,136.9 C838.3,136.8 839.6,123.1 841.6,121.0 C843.6,118.9 845.7,124.3 847.3,124.4 C848.9,124.5 849.8,121.3 851.3,121.6 C852.8,121.9 854.4,125.8 856.4,126.1 C858.4,126.4 861.3,124.7 863.2,123.3 C865.1,121.9 866.2,118.5 867.7,117.6 C869.2,116.6 870.6,116.5 872.3,117.6 C874.0,118.6 875.9,122.9 878.0,123.9 C880.1,125.0 882.0,122.6 884.8,123.9 C887.6,125.2 892.0,131.2 895.0,131.8 C898.0,132.5 901.1,128.1 903.0,127.8 C904.9,127.5 905.3,129.9 906.4,130.1 C907.5,130.3 907.5,127.6 909.8,129.0 C912.1,130.4 917.2,137.7 920.0,138.6 C922.8,139.5 924.8,137.7 926.8,134.7 C928.8,131.7 929.8,121.0 931.9,120.5 C934.0,120.0 937.5,129.5 939.3,131.8 C941.1,134.1 941.6,132.9 942.7,134.1 C943.8,135.3 944.8,138.9 946.1,139.2 C947.4,139.5 949.2,135.1 950.7,135.8 C952.2,136.5 953.2,143.4 955.2,143.2 C957.2,143.0 960.4,135.8 962.4,134.7 C964.4,133.6 965.9,137.6 967.5,136.9 C969.1,136.2 970.4,132.3 972.0,130.7 C973.6,129.1 975.7,127.7 977.2,127.3 C978.7,126.9 979.8,127.7 981.1,128.4 C982.4,129.1 983.9,129.9 985.1,131.3 C986.3,132.7 987.5,136.0 988.5,136.9 C989.5,137.8 990.3,136.3 991.4,136.9 C992.5,137.5 993.4,140.8 995.3,140.3 C997.2,139.8 1000.5,135.3 1002.7,134.1 C1004.9,132.9 1006.9,133.1 1008.4,133.0 C1009.9,132.9 1010.7,133.9 1011.8,133.5 C1012.9,133.1 1013.7,131.3 1015.2,130.7 C1016.7,130.1 1019.0,129.1 1020.9,130.1 C1022.8,131.1 1024.9,135.8 1026.6,136.4 C1028.3,137.0 1029.5,133.0 1031.1,133.5 C1032.7,134.0 1034.1,137.3 1036.3,139.2 C1038.5,141.1 1042.2,145.4 1044.2,144.9 C1046.2,144.4 1046.6,137.9 1048.2,136.4 C1049.8,134.9 1052.3,135.2 1053.9,135.8 C1055.5,136.4 1056.6,139.5 1057.8,139.8 C1059.0,140.1 1060.1,137.2 1061.3,137.5 C1062.5,137.8 1064.0,141.0 1065.2,141.5 C1066.4,142.0 1067.3,140.1 1068.6,140.3 C1069.9,140.5 1071.9,142.3 1073.2,142.6 C1074.5,142.9 1075.3,143.1 1076.6,142.0 C1077.9,140.9 1079.8,136.7 1081.1,135.8 C1082.4,134.9 1082.2,137.5 1084.5,136.4 C1086.8,135.3 1092.5,130.9 1095.0,129.3 C1097.5,127.7 1097.7,127.3 1099.5,126.7 C1101.3,126.1 1104.2,124.9 1105.8,125.6 C1107.4,126.3 1107.9,130.4 1109.2,130.7 C1110.5,131.0 1112.2,127.6 1113.8,127.3 C1115.4,127.0 1116.7,128.0 1118.9,129.0 C1121.1,130.0 1124.6,132.8 1126.8,133.5 C1129.0,134.2 1130.4,132.4 1131.9,133.0 C1133.4,133.6 1134.4,136.6 1135.9,136.9 C1137.4,137.2 1139.7,134.9 1141.0,134.7 C1142.3,134.5 1142.7,136.5 1143.9,135.8 C1145.1,135.1 1146.1,129.8 1148.4,130.7 C1150.7,131.5 1154.7,139.9 1157.5,140.9 C1160.3,141.9 1163.5,137.5 1165.5,136.9 C1167.5,136.3 1167.8,138.0 1169.4,137.5 C1171.0,137.0 1173.3,134.0 1175.1,134.1 C1176.9,134.2 1178.4,138.3 1180.2,138.1 C1182.0,137.9 1184.0,134.9 1185.9,133.0 C1187.8,131.1 1189.5,126.6 1191.6,126.7 C1193.7,126.8 1195.9,131.7 1198.4,133.5 C1200.9,135.3 1203.9,138.0 1206.4,137.5 C1208.9,137.0 1211.5,131.7 1213.2,130.7 C1214.9,129.7 1215.1,130.0 1216.6,131.3 C1218.1,132.6 1220.3,136.9 1222.3,138.6 C1224.3,140.3 1226.7,142.3 1228.5,141.5 C1230.3,140.7 1232.5,135.2 1233.3,134.0" stroke="#0404C4" stroke-width="4"/>
<path clip-path="url(#cc)" d="M686.7,329.0 C686.9,329.1 686.9,329.1 687.8,329.9 C688.6,330.7 689.7,331.5 691.8,333.9 C693.9,336.3 697.6,342.8 700.3,344.1 C702.9,345.4 705.7,342.3 707.7,341.8 C709.7,341.3 710.5,342.6 712.3,341.3 C714.1,340.0 716.0,335.1 718.5,333.9 C721.0,332.7 724.4,333.2 727.0,333.9 C729.6,334.5 732.0,337.5 733.9,337.8 C735.8,338.1 736.0,334.1 738.4,335.6 C740.8,337.1 745.2,346.1 748.1,346.9 C751.0,347.6 753.1,340.4 755.5,340.1 C757.9,339.8 760.2,344.8 762.3,345.2 C764.4,345.6 766.1,342.7 768.0,342.4 C769.9,342.1 771.3,345.2 773.6,343.5 C775.9,341.8 779.0,334.1 781.6,332.2 C784.2,330.3 786.6,329.0 789.5,332.2 C792.4,335.4 796.5,348.8 799.2,351.5 C801.9,354.2 803.4,350.1 805.5,348.6 C807.6,347.1 809.4,342.3 811.7,342.4 C814.0,342.5 817.0,347.1 819.1,349.2 C821.2,351.3 822.6,354.5 824.5,354.9 C826.4,355.3 828.1,351.3 830.2,351.5 C832.3,351.7 834.9,355.7 837.0,356.0 C839.1,356.3 840.7,354.7 842.7,353.2 C844.7,351.7 846.2,346.0 849.0,346.9 C851.8,347.8 856.1,357.7 859.2,358.3 C862.3,358.9 865.2,351.6 867.7,350.3 C870.2,349.0 871.4,352.9 874.0,350.3 C876.6,347.8 881.1,337.2 883.6,335.0 C886.1,332.8 887.6,337.0 889.3,337.3 C891.0,337.6 891.4,335.1 893.9,336.7 C896.4,338.3 901.3,345.6 904.1,346.9 C906.9,348.2 908.7,346.9 910.9,344.7 C913.1,342.5 914.9,334.3 917.2,333.9 C919.5,333.5 922.2,342.4 924.5,342.4 C926.8,342.4 928.7,335.5 930.8,333.9 C932.9,332.3 934.7,332.9 937.0,332.7 C939.3,332.5 942.1,330.8 944.4,332.7 C946.7,334.6 948.5,340.6 950.7,344.1 C952.9,347.6 955.4,353.4 957.6,353.8 C959.8,354.2 962.1,348.4 964.1,346.4 C966.1,344.4 967.6,343.9 969.8,341.8 C972.0,339.7 974.9,334.4 977.2,333.9 C979.5,333.4 981.3,339.4 983.4,339.0 C985.5,338.6 987.7,332.0 989.7,331.6 C991.7,331.2 993.1,333.9 995.3,336.7 C997.5,339.4 1000.5,345.6 1002.7,348.1 C1004.9,350.6 1006.1,351.3 1008.4,351.5 C1010.7,351.7 1013.9,351.0 1016.4,349.2 C1018.9,347.4 1020.8,343.8 1023.2,340.7 C1025.6,337.6 1028.3,332.4 1030.6,330.5 C1032.9,328.6 1034.7,330.2 1036.8,329.3 C1038.9,328.4 1041.1,325.1 1043.1,324.8 C1045.1,324.5 1047.2,327.4 1048.8,327.6 C1050.4,327.8 1050.7,324.8 1052.7,325.9 C1054.7,326.9 1058.7,332.3 1060.7,333.9 C1062.7,335.5 1063.2,334.8 1064.7,335.6 C1066.2,336.5 1067.7,339.3 1069.8,339.0 C1071.9,338.7 1074.7,333.2 1077.2,333.9 C1079.8,334.6 1082.7,343.8 1085.1,343.0 C1087.5,342.2 1089.8,331.8 1091.4,329.3 C1093.1,326.8 1093.8,327.7 1095.0,328.2 C1096.2,328.7 1096.6,329.7 1098.4,332.2 C1100.2,334.7 1103.2,343.1 1105.8,343.0 C1108.4,342.9 1111.0,334.1 1113.8,331.6 C1116.5,329.1 1119.9,329.1 1122.3,328.2 C1124.7,327.3 1126.5,326.2 1128.0,326.5 C1129.5,326.8 1129.7,327.2 1131.4,329.9 C1133.1,332.5 1135.4,341.4 1138.2,342.4 C1141.0,343.4 1145.6,338.6 1148.4,336.1 C1151.2,333.6 1152.5,327.9 1155.2,327.6 C1158.0,327.3 1162.4,333.6 1164.9,334.4 C1167.4,335.2 1167.8,331.8 1170.0,332.2 C1172.2,332.6 1175.3,336.4 1178.0,336.7 C1180.7,337.0 1183.5,335.5 1185.9,333.9 C1188.3,332.3 1190.1,327.3 1192.2,327.0 C1194.3,326.7 1196.5,331.6 1198.4,332.2 C1200.3,332.8 1201.6,329.5 1203.5,330.5 C1205.4,331.5 1208.0,336.4 1209.8,338.4 C1211.6,340.4 1212.6,340.6 1214.3,342.4 C1216.0,344.2 1218.1,347.4 1220.0,349.2 C1221.9,351.0 1223.5,355.2 1225.7,353.2 C1227.9,351.2 1232.0,339.9 1233.3,337.3" stroke="#E1101A" stroke-width="4"/>
</g>
<text transform="translate(679.00,227.20) scale(0.9600,1.0700)" font-size="26" text-anchor="end">9.5</text>
<text transform="translate(679.00,178.95) scale(0.9600,1.0700)" font-size="26" text-anchor="end">10.0</text>
<text transform="translate(679.00,130.70) scale(0.9600,1.0700)" font-size="26" text-anchor="end">10.5</text>
<text transform="translate(679.00,82.45) scale(0.9600,1.0700)" font-size="26" text-anchor="end">11.0</text>
<text transform="translate(679.00,34.20) scale(0.9600,1.0700)" font-size="26" text-anchor="end">11.5</text>
<text transform="translate(679.00,448.00) scale(0.9600,1.0700)" font-size="26" text-anchor="end">24.0</text>
<text transform="translate(679.00,399.85) scale(0.9600,1.0700)" font-size="26" text-anchor="end">24.5</text>
<text transform="translate(679.00,351.70) scale(0.9600,1.0700)" font-size="26" text-anchor="end">25.0</text>
<text transform="translate(679.00,303.55) scale(0.9600,1.0700)" font-size="26" text-anchor="end">25.5</text>
<text transform="translate(679.00,255.40) scale(0.9600,1.0700)" font-size="26" text-anchor="end">26.0</text>
<text transform="translate(686.70,469.70) scale(0.9500,1.0500)" font-size="26" text-anchor="middle">0</text>
<text transform="translate(777.80,469.70) scale(0.9500,1.0500)" font-size="26" text-anchor="middle">10</text>
<text transform="translate(868.90,469.70) scale(0.9500,1.0500)" font-size="26" text-anchor="middle">20</text>
<text transform="translate(960.00,469.70) scale(0.9500,1.0500)" font-size="26" text-anchor="middle">30</text>
<text transform="translate(1051.10,469.70) scale(0.9500,1.0500)" font-size="26" text-anchor="middle">40</text>
<text transform="translate(1142.20,469.70) scale(0.9500,1.0500)" font-size="26" text-anchor="middle">50</text>
<text transform="translate(1233.30,469.70) scale(0.9500,1.0500)" font-size="26" text-anchor="middle">60</text>
<path d="M700.1,45.9H739" stroke="#0000DA" stroke-width="3.8" stroke-linecap="round"/>
<path d="M698.7,265.5H737.4" stroke="#E1101A" stroke-width="3.8" stroke-linecap="round"/>
<text transform="translate(745.80,53.71) scale(0.9981,1.1433)" font-size="25">Standard QTF</text>
<text transform="translate(743.82,272.37) scale(0.9894,1.0779)" font-size="25">Inverted-triangular LiNTF</text>
<text transform="translate(701.54,206.10) scale(1.0793,1.0000)" font-size="27">(b)</text>
<text transform="translate(700.14,425.36) scale(1.0821,1.0231)" font-size="27">(c)</text>
<text transform="translate(908.13,514.50) scale(0.9586,1.0863)" font-size="30">Time (s)</text>
<text transform="translate(615.19,298.05) rotate(-90) scale(1.0276,1.0155)" font-size="30">Noise (μV)</text>
<text transform="translate(1052.70,201.60) scale(0.9900,1.0600)" font-size="25">1</text>
<text transform="translate(1050.95,421.90) scale(0.9900,1.0600)" font-size="25">1</text>
<text transform="translate(1080.89,201.60) scale(0.9900,1.0600)" font-size="25">σ</text>
<text transform="translate(1108.46,201.60) scale(0.9900,1.0600)" font-size="25">=</text>
<text transform="translate(1078.49,421.90) scale(0.9900,1.0600)" font-size="25">σ</text>
<text transform="translate(1106.04,421.90) scale(0.9900,1.0600)" font-size="25">=</text>
<text transform="translate(1129.01,201.60) scale(0.9900,1.0600)" font-size="25">62.05 nV</text>
<text transform="translate(1128.31,421.90) scale(0.9900,1.0600)" font-size="25">80.30 nV</text>
</svg>
</body></html>
